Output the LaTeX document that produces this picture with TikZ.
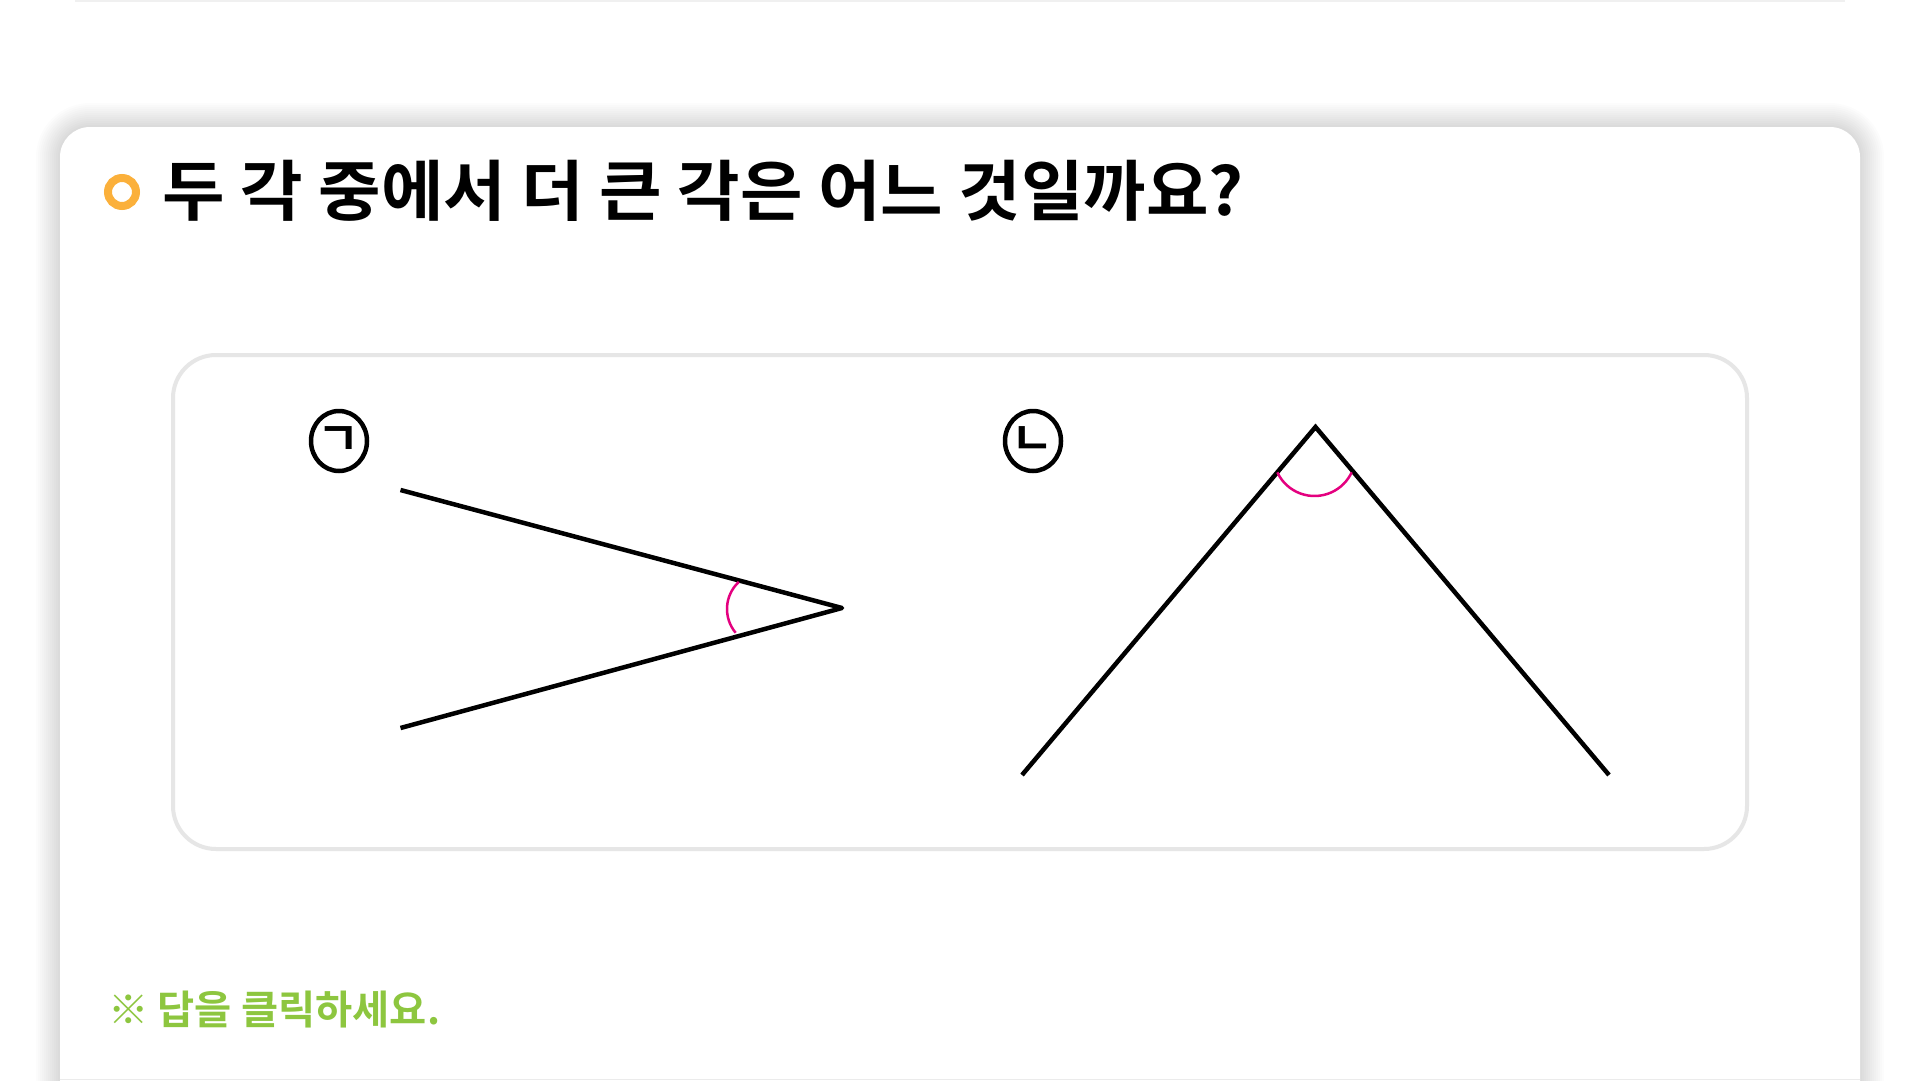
\documentclass[tikz,border=0pt]{standalone}
\usepackage{fontspec}
\newfontfamily\kofont{Noto Sans CJK KR}[BoldFont=* Bold]
\usepackage{tikz}
\usetikzlibrary{shapes.geometric}
\definecolor{bulletorange}{HTML}{FBB03B}
\definecolor{markpink}{HTML}{E4007F}
\definecolor{hintgreen}{HTML}{8DC63F}
\definecolor{boxgray}{HTML}{E6E6E6}
\begin{document}
\begin{tikzpicture}[x=1pt,y=-1pt,
    angleline/.style={line width=4.5pt},
    anglemark/.style={markpink, line width=2.5pt},
    lbl/.style={draw, line width=4.5pt, ellipse, minimum width=56pt, minimum height=60pt, inner sep=0pt},
    jamo/.style={inner sep=0pt, font=\kofont\bfseries\fontsize{46}{48}\selectfont}]
    \useasboundingbox (0,0) rectangle (1920,1081);
    \fill[white] (0,0) rectangle (1920,1081);
    \draw[black!6, line width=2pt] (75,1)--(1845,1);
    \foreach \s in {1,...,12}
        \fill[black, opacity=0.012, rounded corners=30+\s*2] (60-\s*2,127-\s*2) rectangle (1860+\s*2,1130);
    \fill[white, rounded corners=30] (60,127) rectangle (1860,1130);
    \draw[black!8, line width=1.5pt] (60,1079.5)--(1860,1079.5);
    \draw[bulletorange, line width=8pt] (122,192) circle[radius=14];
    \node[anchor=base west, inner sep=0pt] (title) at (162.5,215) {\scalebox{1.03}[1]{\kofont\bfseries\fontsize{66}{70}\selectfont 두 각 중에서 더 큰 각은 어느 것일까요?}};
    \draw[boxgray, line width=4pt, rounded corners=43] (173,355) rectangle (1747,849);
    \node[lbl] (ga) at (339,441) {};
    \node[jamo] at (ga) {ㄱ};
    \draw[angleline, line join=round] (400.5,490)--(842,608)--(400.5,728);
    \draw[anglemark] (764,609) ++(227:37) arc[start angle=227, end angle=140, radius=37];
    \node[lbl] (na) at (1033,441) {};
    \node[jamo] at (na) {ㄴ};
    \draw[angleline, line join=miter] (1022,775)--(1315.5,427)--(1609,775);
    \draw[anglemark] (1314.5,455) ++(155:41) arc[start angle=155, end angle=25, radius=41];
    \node[anchor=base west, inner sep=0pt, hintgreen] (hint) at (108,1024) {\scalebox{1.01}[1]{\kofont\bfseries\fontsize{40}{44}\selectfont ※ 답을 클릭하세요.}};
\end{tikzpicture}
\end{document}
